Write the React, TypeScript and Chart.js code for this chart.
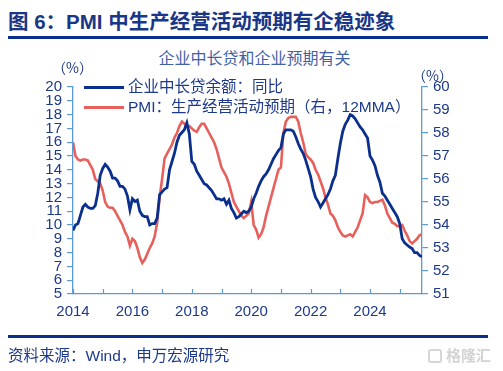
import React, { useEffect, useRef } from "react";
import { Chart, registerables } from "chart.js";

Chart.register(...registerables);

// Monthly, Jan 2014 .. Oct 2025
const startYear = 2014;
const loanGrowth: number[] = [
  9.6, 10.0, 10.1, 10.7, 11.3, 11.5, 11.3, 11.2, 11.2, 11.4, 12.3, 13.6,
  14.1, 14.4, 14.2, 13.9, 13.4, 13.4, 13.2, 12.8, 12.8, 12.6, 12.1, 11.1,
  11.9, 11.7, 11.8, 11.0, 10.7, 10.6, 10.6, 10.0, 10.1, 10.1, 10.5, 12.2,
  12.4, 12.6, 12.7, 14.0, 14.6, 15.2, 16.0, 16.5, 16.7, 16.9, 17.4, 16.6,
  14.6, 14.4, 13.9, 13.6, 13.3, 13.0, 12.9, 12.7, 12.5, 12.2, 11.9, 11.9,
  11.8, 11.9, 11.5, 11.8, 11.2, 10.9, 10.5, 10.6, 10.8, 11.0, 10.9, 11.0,
  11.3, 11.9, 12.3, 12.8, 13.2, 13.5, 13.7, 14.0, 14.4, 14.8, 15.1, 15.4,
  15.6, 16.6, 16.9, 16.9, 16.9, 16.8, 16.4, 15.9, 15.5, 15.2, 14.7, 14.1,
  13.5, 12.6, 12.0, 11.7, 11.3, 11.6, 11.9, 12.2, 12.6, 13.2, 13.6, 14.8,
  15.9, 16.8, 17.3, 17.6, 18.0, 17.9, 17.7, 17.4, 17.1, 16.9, 16.6, 16.3,
  15.0, 14.7, 14.3, 13.6, 13.1, 12.3, 12.1, 11.8, 11.5, 11.2, 10.9, 10.6,
  10.1, 9.0, 8.7, 8.55, 8.4, 8.3, 8.0, 8.0, 7.8, 7.7,
];
const pmiExpect: number[] = [
  57.6, 57.0, 56.85, 56.8, 56.85, 56.85, 56.8, 56.6, 56.4, 56.0, 55.9, 55.8,
  55.5, 55.0, 54.8, 54.75, 54.75, 54.6, 54.4, 54.2, 54.0, 53.7, 53.5, 53.1,
  53.4, 53.3, 53.0, 52.6, 52.35, 52.5, 52.75, 53.0, 53.2, 53.5, 54.1, 55.2,
  56.0, 56.9, 57.1, 57.3, 57.5, 57.8, 58.0, 58.3, 58.5, 58.4, 58.3, 58.3,
  58.2, 58.1, 58.05, 58.25, 58.4, 58.4, 58.2, 58.0, 57.8, 57.6, 57.3, 56.9,
  56.5, 56.3, 56.1, 55.8, 55.4, 55.0, 54.8, 54.6, 54.4, 54.3, 54.4, 54.5,
  55.0, 54.0, 53.8, 53.45, 53.6, 53.9, 54.4, 54.8, 55.2, 55.6, 56.0, 56.4,
  56.5, 58.0, 58.5, 58.65, 58.7, 58.7, 58.7, 58.5, 58.0, 57.6, 57.1, 56.95,
  56.85, 56.7, 56.4, 56.2, 55.9, 55.6, 55.2, 54.9, 54.5, 54.4, 54.2, 53.9,
  53.7, 53.55, 53.5, 53.55, 53.6, 53.5, 53.7, 53.9, 54.2, 54.5, 55.3, 55.2,
  55.0, 54.95, 55.0, 55.0, 55.05, 55.1, 54.85, 54.5, 54.3, 54.1, 54.05, 53.95,
  53.95, 54.0, 53.75, 53.55, 53.3, 53.2, 53.3, 53.4, 53.55, 53.6,
];
const leftTicks = { min: 5, max: 20 };
const rightTicks = { min: 51, max: 60 };
const seriesNames = ["企业中长贷余额：同比", "PMI：生产经营活动预期（右，12MMA）"];

const NAVY = "#0b2f8c";
const RED = "#e8605b";
const AXIS = "#5b9bd5";
const TXT = "#1d3a8a";
const FONT = "'Liberation Sans', 'Noto Sans CJK SC', sans-serif";
const CJK = "'Noto Sans CJK SC', sans-serif";

const innerTicks = {
  id: "innerTicks",
  afterDraw(chart: any) {
    const x = chart.scales.x;
    const ctx = chart.ctx;
    const bottom = chart.chartArea.bottom;
    ctx.save();
    ctx.strokeStyle = AXIS;
    ctx.lineWidth = 1.2;
    for (let v = 0; v <= x.max; v += 12) {
      const px = Math.round(x.getPixelForValue(v)) + 0.5;
      ctx.beginPath();
      ctx.moveTo(px, bottom);
      ctx.lineTo(px, bottom - 5);
      ctx.stroke();
    }
    ctx.restore();
  },
};

export default function App() {
  const ref = useRef<HTMLCanvasElement>(null);
  useEffect(() => {
    if (!ref.current) return;
    const n = loanGrowth.length;
    const chart = new Chart(ref.current, {
      type: "line",
      data: {
        datasets: [
          {
            label: seriesNames[0],
            data: loanGrowth.map((v, i) => ({ x: i, y: v })),
            borderColor: NAVY,
            borderWidth: 2.8,
            pointRadius: 0,
            yAxisID: "y",
            tension: 0,
            order: 1,
          },
          {
            label: seriesNames[1],
            data: pmiExpect.map((v, i) => ({ x: i, y: v })),
            borderColor: RED,
            borderWidth: 2.6,
            pointRadius: 0,
            yAxisID: "y1",
            tension: 0,
            order: 2,
          },
        ],
      },
      options: {
        responsive: false,
        animation: false,
        layout: { padding: { top: 87, left: 0, right: 0, bottom: 0 } },
        plugins: { legend: { display: false }, tooltip: { enabled: false } },
        scales: {
          x: {
            type: "linear",
            min: 0,
            max: n - 1,
            afterFit: (s: any) => {
              s.height = 77;
            },
            ticks: {
              stepSize: 12,
              includeBounds: false,
              autoSkip: false,
              maxRotation: 0,
              padding: 9,
              color: TXT,
              font: { family: FONT, size: 15 },
              callback: (v: any) => {
                const yr = startYear + Number(v) / 12;
                return Number(v) % 24 === 0 ? String(yr) : "";
              },
            },
            grid: { display: false, drawTicks: false },
            border: { display: true, color: AXIS, width: 1.3 },
          },
          y: {
            position: "left",
            min: leftTicks.min,
            max: leftTicks.max,
            afterFit: (s: any) => {
              s.width = 73;
            },
            ticks: {
              stepSize: 1,
              autoSkip: false,
              padding: 5,
              color: TXT,
              font: { family: FONT, size: 15 },
            },
            grid: { drawOnChartArea: false, drawTicks: true, tickLength: 6, color: AXIS, lineWidth: 1.2 },
            border: { display: true, color: AXIS, width: 1.3 },
          },
          y1: {
            position: "right",
            min: rightTicks.min,
            max: rightTicks.max,
            afterFit: (s: any) => {
              s.width = 81;
            },
            ticks: {
              stepSize: 1,
              autoSkip: false,
              padding: 5,
              color: TXT,
              font: { family: FONT, size: 15 },
            },
            grid: { drawOnChartArea: false, drawTicks: true, tickLength: 6, color: AXIS, lineWidth: 1.2 },
            border: { display: true, color: AXIS, width: 1.3 },
          },
        },
      },
      plugins: [innerTicks],
    });
    return () => chart.destroy();
  }, []);

  const abs = (o: any): React.CSSProperties => ({ position: "absolute", whiteSpace: "nowrap", ...o });

  return (
    <div style={{ position: "absolute", left: 0, top: 0, width: 503, height: 371, background: "#fff", overflow: "hidden", fontFamily: FONT }}>
      <div style={abs({ left: 8, top: 9, fontSize: 20.5, fontWeight: 700, color: "#1a3687", lineHeight: "26px" })}>
        图 6：PMI 中生产经营活动预期有企稳迹象
      </div>
      <div style={abs({ left: 8, top: 36, width: 480, height: 2.5, background: "#0b2f8c" })} />
      <div style={abs({ left: 0, width: 503, top: 46, textAlign: "center", fontSize: 16, color: "#4262a8", lineHeight: "22px", paddingLeft: 6, boxSizing: "border-box", fontFamily: CJK })}>
        企业中长贷和企业预期有关
      </div>
      <canvas ref={ref} width={503} height={371} style={{ position: "absolute", left: 0, top: 0 }} />
      <div style={abs({ left: 52, top: 57, fontSize: 14, color: TXT, lineHeight: "20px", fontFamily: CJK })}>（%）</div>
      <div style={abs({ left: 412, top: 65, fontSize: 14, color: TXT, lineHeight: "20px", fontFamily: CJK })}>（%）</div>
      <div style={abs({ left: 84, top: 86, width: 40, height: 3, background: NAVY })} />
      <div style={abs({ left: 128, top: 77, fontSize: 15.5, color: TXT, lineHeight: "20px" })}>{seriesNames[0]}</div>
      <div style={abs({ left: 84, top: 106, width: 40, height: 3, background: RED })} />
      <div style={abs({ left: 128, top: 97, fontSize: 15.5, color: TXT, lineHeight: "20px" })}>{seriesNames[1]}</div>
      <div style={abs({ left: 8, top: 335, width: 480, height: 2.5, background: "#0b2f8c" })} />
      <div style={abs({ left: 8, top: 345, fontSize: 15.5, color: TXT, lineHeight: "22px" })}>资料来源：Wind，申万宏源研究</div>
      <div style={abs({ left: 428, top: 349, width: 14, height: 14, border: "2px solid #d6d6d6", borderRadius: 3, boxSizing: "border-box" })} />
      <div style={abs({ left: 446, top: 346, fontSize: 15, color: "#d3d3d3", lineHeight: "20px", fontWeight: 700 })}>格隆汇</div>
    </div>
  );
}
